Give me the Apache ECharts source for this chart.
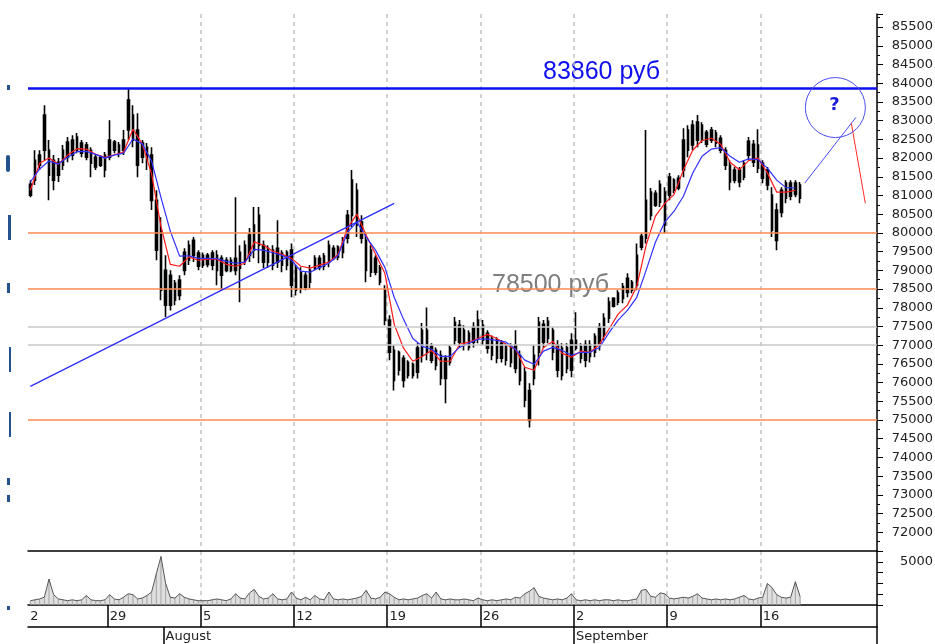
<!DOCTYPE html>
<html>
<head>
<meta charset="utf-8">
<script src="https://cdn.jsdelivr.net/npm/echarts@6/dist/echarts.min.js"></script>
<style>
  html, body { margin: 0; padding: 0; background: #fff; }
  #chart { width: 935px; height: 644px; }
</style>
</head>
<body>
<div id="chart"></div>
<script>
  // quarter-day slots, first slot = late 22 Jul
  const slotCount = 182;
  const weekTicks = [17, 37, 57, 77, 97, 117, 137, 157];
  const weekLabels = ["29", "5", "12", "19", "26", "2", "9", "16"];
  const edgeLabel = "2";
  const monthTicks = [29, 117];
  const monthLabels = ["August", "September"];

  const opens = [81010,81410,81810,82210,82210,81940,81540,81810,82020,82080,82560,82400,82350,82210,81760,82020,81680,82020,82430,82130,
    82210,82750,83150,82750,82020,82290,82080,80870,80070,79000,78070,78660,78330,79000,79270,79800,79460,79140,79400,79140,
    79400,78870,79270,79000,79320,79060,79270,79400,80210,80470,79670,79220,79540,79220,79460,79140,79540,78470,78950,78550,
    78680,79060,79320,79110,79220,79590,79350,79480,79860,80470,81140,80290,79800,78950,79320,79060,78470,77670,76860,76330,
    76650,76190,76490,76280,76730,77400,76970,76460,76730,76110,76540,77130,77530,77400,76940,77080,77180,77530,77320,77180,
    76650,77050,76970,76540,77000,76730,76280,74990,76110,76810,77560,77180,77400,77000,76190,76940,76330,77130,76650,77020,
    76700,76810,77000,77260,77720,78250,78150,78250,78790,78470,78600,79620,79860,81090,80740,81300,80210,81010,81410,81200,
    81680,82210,82880,82480,82880,82370,82750,82670,82530,82210,81810,81410,81680,81490,82080,82370,81730,81860,81680,81010,
    79800,80550,81330,80980,81330,80930];
  const closes = [81300,81940,82080,83150,81540,81410,81890,82210,82430,82480,82210,82130,82020,81860,82020,81810,82080,82480,82210,82350,
    82480,83550,82480,81810,82400,81940,80870,79540,78470,78070,78870,78200,78740,79480,79670,79400,79110,79400,79160,79460,
    79000,79320,79000,79270,79000,79480,79670,79940,79540,79670,79220,79590,79140,79590,79140,79480,78600,79060,78520,78870,
    79000,79320,79080,79380,79670,79320,79620,79800,80470,81410,80210,79860,79000,79540,78950,78680,77670,76810,76060,76810,
    76060,76540,76190,76920,77400,76810,76600,76860,76110,76650,76920,77610,77080,77000,77320,77480,77670,77130,76920,76730,
    77130,76650,76600,76970,76380,76060,75530,75790,76730,77610,77080,77640,76810,76330,76920,76380,77130,76920,76970,76600,
    77020,77240,77480,77720,78150,78040,78390,78570,78410,78680,79400,79910,80870,80470,81060,80820,81090,81490,81140,81460,
    82480,82750,82350,82960,82480,82690,82480,82400,82210,81810,81360,81680,81360,81860,82450,81890,82350,81460,81280,80070,
    80610,81140,80930,81330,81030,81280];
  const lows = [80950,81280,81680,81940,80870,81140,81360,81680,81890,81940,82130,82020,81940,81490,81680,81760,81490,81940,82130,82020,
    82080,82480,82290,81490,81860,81680,80610,79270,78200,77750,77930,78070,78200,78870,79140,79220,79000,79060,79080,79000,
    78600,78470,78950,78950,78870,78150,79140,79220,79320,79190,79060,79060,79000,79060,78950,79000,78280,78330,78390,78470,
    78520,79000,79000,79000,79080,79270,79270,79320,79720,80150,79890,79720,78680,78820,78870,78600,77530,76600,75790,76190,
    75870,76110,76110,76110,76540,76600,76520,76330,75930,75450,76460,77000,76940,76860,76860,76940,77050,77000,76780,76600,
    76520,76540,76460,76410,76250,75930,75340,74800,75930,76460,76920,77050,76600,76140,76060,76250,76140,76860,76520,76410,
    76540,76680,76860,77130,77590,78010,78070,78120,78280,78390,78470,79540,79720,80340,80690,80690,79990,80870,81060,81140,
    81490,82020,82210,82290,82400,82290,82400,82290,82130,81680,81140,81330,81220,81410,81940,81760,81600,81330,81140,79890,
    79540,80420,80790,80870,80950,80790];
  const highs = [81410,82210,82210,83410,82480,82080,82000,82350,82560,82610,82670,82480,82430,82290,82080,82080,82160,83010,82480,82430,
    82750,83860,83410,83200,82480,82400,82290,81140,80420,79400,79000,78740,78870,79590,79800,79890,79540,79480,79460,79540,
    79540,79400,79350,79350,80950,79670,79800,80130,80690,80690,79800,79670,79670,80340,79540,79540,79720,79140,79080,78950,
    79140,79400,79400,79460,79800,79670,79670,79890,80610,81680,81330,80470,80020,79670,79400,79140,78600,77800,77000,76860,
    76730,76600,76540,77050,77590,78010,77050,76940,76860,76730,77000,77750,77670,77530,77400,77610,77930,77670,77400,77260,
    77210,77130,77050,77050,77400,76860,76410,75980,77000,77750,77670,77750,77480,77130,77050,77050,77320,77880,77050,77130,
    77130,77320,77590,77850,78280,78280,78470,78660,78920,78740,79720,79990,82750,81200,81140,81410,81220,81600,81460,81540,
    82800,82880,83010,83150,82960,82750,82830,82750,82610,82290,81940,81760,81760,81940,82560,82480,82770,81940,81760,81220,
    80790,81220,81410,81410,81410,81360];

  // moving averages read every 2nd slot
  const maStep = 2;
  const maFast = [81140,81860,82000,81840,82080,82250,82240,82100,82020,82090,82160,82770,82380,81570,80180,79160,79110,79360,79270,79300,
    79300,79160,79110,79190,79760,79670,79510,79430,79320,79110,79060,79140,79220,79430,80130,80500,79940,79430,78920,77560,
    76920,76570,76700,76860,76570,76570,77020,77080,77180,77290,77180,77020,76890,76410,76330,76940,77100,76780,76680,76840,
    76810,77020,77420,77830,78070,78570,79670,80450,80790,81030,81680,82210,82470,82530,82370,81890,81690,81930,82000,81600,
    81090,81090,81140];
  const maSlow = [81360,81710,81920,81840,82020,82170,82180,82100,82000,82080,82130,82510,82380,81920,80950,80050,79380,79390,79320,79320,
    79310,79240,79190,79220,79560,79540,79470,79400,79270,78980,78950,79080,79190,79400,80020,80290,79890,79540,79080,78280,
    77690,77180,76970,76890,76700,76700,76940,77050,77160,77160,77130,77080,76890,76600,76490,76840,76940,76860,76730,76810,
    76810,76940,77320,77670,77930,78280,79000,79750,80290,80580,80980,81600,82050,82240,82280,82050,81890,81980,81960,81730,
    81410,81210,81200];

  const volume = [500,600,700,900,3000,1200,700,600,500,600,500,600,1100,600,500,500,600,1200,700,600,
    900,1300,1200,700,800,1100,1500,3600,5600,2500,900,800,1300,900,700,600,500,500,500,600,
    700,600,500,700,1300,800,700,1400,1800,1000,700,800,1300,700,600,700,1500,800,600,900,
    600,1100,700,600,1500,700,600,700,600,700,800,1000,1700,800,700,900,1500,1300,900,600,
    700,600,700,800,1100,1300,800,1500,700,600,700,600,600,700,600,500,800,600,500,600,
    500,600,700,600,900,800,1300,1600,2000,1000,800,700,600,700,600,800,1300,600,500,600,
    500,600,500,600,600,500,600,500,500,600,700,1700,1800,1000,900,1400,1300,800,700,800,
    900,800,1000,1300,800,700,600,700,600,700,600,700,900,1100,700,600,800,900,2500,2000,
    1200,900,800,900,2700,1000];

  const resistance = 83860;
  const orangeLevels = [80000, 78500, 75000];
  const grayLevels = [77500, 77000];
  const trendLine = [[0, 75900], [78, 80790]];
  const projectionUp = [[166, 81330], [177, 83090]];
  const projectionDown = [[176, 82930], [179, 80790]];
  const questionMark = [173, 83350];

  const fontFamily = '"DejaVu Sans", sans-serif';
  const slots = Array.from({ length: slotCount }, (_, i) => String(i));
  const weekAt = {};
  weekTicks.forEach((t, k) => (weekAt[t] = weekLabels[k]));
  const monthAt = {};
  monthTicks.forEach((t, k) => (monthAt[t] = monthLabels[k]));
  const isWeek = i => weekAt[i] !== undefined;

  const dashed = { color: "#c4c4c4", type: [4, 4], width: 1.5 };
  const black = { color: "#000", width: 1.5 };

  const chart = echarts.init(document.getElementById("chart"));

  const option = {
    animation: false,
    textStyle: { fontFamily },
    grid: [
      { left: 28, right: 58, top: 14, height: 537, outerBoundsMode: "none" },
      { left: 28, right: 58, top: 551, height: 54, outerBoundsMode: "none" },
    ],
    xAxis: [
      {
        gridIndex: 0,
        type: "category",
        data: slots,
        axisLine: { lineStyle: black },
        axisTick: { show: false },
        axisLabel: { show: false },
        splitLine: { show: true, interval: isWeek, showMinLine: false, showMaxLine: false, lineStyle: dashed },
      },
      {
        gridIndex: 1,
        type: "category",
        data: slots,
        axisLine: { lineStyle: black },
        axisTick: { show: true, interval: isWeek, length: 22, lineStyle: black },
        axisLabel: {
          interval: i => isWeek(i) || i === 0,
          formatter: (v, i) => (i === 0 ? edgeLabel : weekAt[i]),
          align: "left",
          margin: 5,
          fontSize: 13,
          color: "#222",
        },
        splitLine: { show: true, interval: isWeek, showMinLine: false, showMaxLine: false, lineStyle: dashed },
      },
      {
        gridIndex: 1,
        type: "category",
        data: slots,
        position: "bottom",
        offset: 22,
        axisLine: { lineStyle: black },
        axisTick: { show: true, interval: i => monthAt[i] !== undefined, length: 17, lineStyle: black },
        axisLabel: {
          interval: i => monthAt[i] !== undefined,
          formatter: (v, i) => monthAt[i],
          align: "left",
          margin: 3,
          fontSize: 13,
          color: "#222",
        },
        splitLine: { show: false },
      },
    ],
    yAxis: [
      {
        gridIndex: 0,
        type: "value",
        position: "right",
        min: 71500,
        max: 85850,
        interval: 500,
        axisLine: { show: true, lineStyle: black },
        axisTick: { show: true, length: 6, lineStyle: { color: "#000" } },
        minorTick: { show: true, splitNumber: 2, length: 3, lineStyle: { color: "#000" } },
        axisLabel: {
          formatter: v => (v >= 72000 && v <= 85500 && v % 500 === 0 ? String(v) : ""),
          align: "right",
          margin: 56,
          fontSize: 13,
          color: "#222",
        },
        splitLine: { show: false },
      },
      {
        gridIndex: 1,
        type: "value",
        position: "right",
        min: 0,
        max: 6250,
        interval: 1250,
        axisLine: { show: true, lineStyle: black },
        axisTick: { show: true, length: 6, lineStyle: { color: "#000" } },
        axisLabel: {
          formatter: v => (v === 5000 ? "5000" : ""),
          align: "right",
          margin: 56,
          fontSize: 13,
          color: "#222",
        },
        splitLine: { show: false },
      },
    ],
    series: [
      {
        name: "price",
        type: "candlestick",
        xAxisIndex: 0,
        yAxisIndex: 0,
        barWidth: 2,
        data: opens.map((o, i) => [o, closes[i], lows[i], highs[i]]),
        itemStyle: { color: "#000", color0: "#000", borderColor: "#000", borderColor0: "#000", borderWidth: 1.6 },
        z: 2,
        markLine: {
          silent: true,
          symbol: ["none", "none"],
          label: { show: false },
          data: [
            ...grayLevels.map(v => ({ yAxis: v, lineStyle: { color: "#c8c8c8", width: 1.5, type: "solid" } })),
            ...orangeLevels.map(v => ({ yAxis: v, lineStyle: { color: "#ff8a50", width: 1.5, type: "solid" } })),
            { yAxis: resistance, lineStyle: { color: "#0f0ff0", width: 2.5, type: "solid" } },
            [
              { coord: trendLine[0], lineStyle: { color: "#2a2aff", width: 1.2, type: "solid" } },
              { coord: trendLine[1] },
            ],
            [
              { coord: projectionUp[0], lineStyle: { color: "#4a4aff", width: 1, type: "solid" } },
              { coord: projectionUp[1] },
            ],
            [
              { coord: projectionDown[0], lineStyle: { color: "#ff2a2a", width: 1, type: "solid" } },
              { coord: projectionDown[1] },
            ],
          ],
        },
        markPoint: {
          silent: true,
          data: [
            {
              coord: questionMark,
              symbol: "circle",
              symbolSize: 60,
              symbolOffset: [-2, 0],
              itemStyle: { color: "rgba(0,0,0,0)", borderColor: "#4c4cf5", borderWidth: 1 },
              label: { show: true, formatter: "?", color: "#1a1ad8", fontWeight: "bold", fontSize: 18, offset: [-1, -2] },
            },
          ],
        },
      },
      {
        name: "fast",
        type: "line",
        xAxisIndex: 0,
        yAxisIndex: 0,
        data: maFast.map((v, k) => [k * maStep, v]),
        showSymbol: false,
        lineStyle: { color: "#ff1a1a", width: 1.2 },
        z: 3,
      },
      {
        name: "slow",
        type: "line",
        xAxisIndex: 0,
        yAxisIndex: 0,
        data: maSlow.map((v, k) => [k * maStep, v]),
        showSymbol: false,
        lineStyle: { color: "#3030ff", width: 1.2 },
        z: 3,
      },
      {
        name: "volume",
        type: "bar",
        xAxisIndex: 1,
        yAxisIndex: 1,
        data: volume,
        barWidth: 1,
        itemStyle: { color: "#8a8a8a" },
      },
      {
        name: "volumeLine",
        type: "line",
        xAxisIndex: 1,
        yAxisIndex: 1,
        data: volume,
        showSymbol: false,
        lineStyle: { color: "#555", width: 1 },
        areaStyle: { color: "#c0c0c0", opacity: 0.5 },
      },
    ],
    graphic: [
      { type: "text", left: 543, top: 60, style: { text: "83860 руб", font: '25px "Liberation Sans", Arial, sans-serif', fill: "#0f0ff0" } },
      { type: "text", left: 492, top: 273, style: { text: "78500 руб", font: '25px "Liberation Sans", Arial, sans-serif', fill: "#7f7f7f" } },
      // clipped watermark glyphs on the far left
      { type: "rect", shape: { x: 7, y: 85, width: 3, height: 5 }, style: { fill: "#24528f" } },
      { type: "rect", shape: { x: 6, y: 155, width: 4, height: 17, r: 2 }, style: { fill: "#24528f" } },
      { type: "rect", shape: { x: 8, y: 215, width: 3, height: 25 }, style: { fill: "#24528f" } },
      { type: "rect", shape: { x: 7, y: 283, width: 3, height: 10 }, style: { fill: "#24528f" } },
      { type: "rect", shape: { x: 9, y: 347, width: 2, height: 25 }, style: { fill: "#24528f" } },
      { type: "rect", shape: { x: 9, y: 412, width: 2, height: 25 }, style: { fill: "#24528f" } },
      { type: "rect", shape: { x: 7, y: 478, width: 3, height: 7 }, style: { fill: "#24528f" } },
      { type: "rect", shape: { x: 7, y: 495, width: 3, height: 7 }, style: { fill: "#24528f" } },
      { type: "rect", shape: { x: 7, y: 606, width: 3, height: 4 }, style: { fill: "#24528f" } },
    ],
  };

  chart.setOption(option);
</script>
</body>
</html>
